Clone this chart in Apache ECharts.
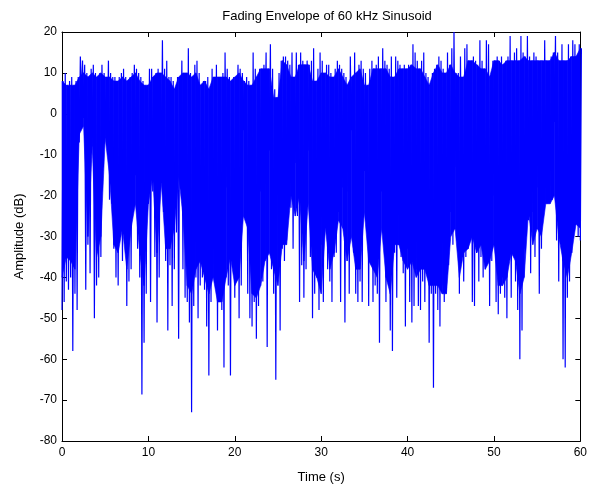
<!DOCTYPE html>
<html>
<head>
<meta charset="utf-8">
<script src="https://cdn.jsdelivr.net/npm/echarts@6/dist/echarts.min.js"></script>
<style>
html,body{margin:0;padding:0;background:#fff;}
#chart{width:590px;height:489px;}
</style>
</head>
<body>
<div id="chart"></div>
<script>
const chartTitle = 'Fading Envelope of 60 kHz Sinusoid';
const xAxisName = 'Time (s)';
const yAxisName = 'Amplitude (dB)';
const xTicks = [0, 10, 20, 30, 40, 50, 60];
const yTicks = [-80, -70, -60, -50, -40, -30, -20, -10, 0, 10, 20];
const binSeconds = 0.25;
const floorSeconds = 0.5;

// per-bin upper peak (dB), bins of 0.25 s from t = 0
const upperDb = [
  8,10,7,8,9,7,8,9,14,13, 12,10,9,11,12,10,9,10,12,10, 9,13,10,9,9,8,9,10,11,9, 8,9,
  10,12,11,10,9,8,7,7,11,11, 9,10,11,10,18,11,13,9,9,8, 6,9,9,13,10,10,16,10,9,12, 13,10,
  7,8,8,9,6,11,9,12,9,9, 10,15,11,9,8,9,9,12,11,10, 8,9,8,7,15,11,9,11,11,12, 15,
  11,17,11,6,4,10,13,14,14,13, 12,15,9,15,12,15,13,12,13,12, 13,16,8,11,15,13,10,12,12,10, 9,
  11,13,12,11,10,9,7,14,9,15, 10,12,13,11,10,7,11,13,11,12, 14,11,16,13,12,11,14,9,14,13, 12,11,
  12,11,12,12,17,15,13,11,13,15, 10,9,7,10,11,12,14,13,11,10, 15,12,16,20,10,10,14,9,16,17, 13,
  13,14,13,12,18,13,11,18,17,9, 13,13,14,13,14,12,13,14,19,13, 15,16,13,19,15,14,19,14,13,15, 14,13,
  13,13,18,13,13,14,15,19,15,13, 17,13,13,17,14,18,17,14,17,16
];

// per-bin lower trough (dB), same bins
const lowerDb = [
  -48,-46,-41,-43,-40,-58,-44,-48,-7,4, -1,-43,-32,-39,-8,-50,-42,-40,-35,-12, -6,-6,-21,-22,-33,-40,-42,-29,-36,-27, -47,-41,
  -38,-11,-15,-33,-40,-68.6,-56,-44,-22,-46, -19,-35,-51,-40,-17,-24,-36,-53,-37,-47, -38,-29,-55,-12,-38,-45,-46,-51,-73,-47, -40,-50,
  -42,-40,-43,-52,-64,-46,-40,-35,-53,-41, -48,-62,-18,-42,-64,-27,-45,-3,-50,-42, -4,-6,-44,-50,-52,-46,-55,-47,-19,-41, -6,
  -57,-9,-38,-44,-65,-20,-53,-33,-36,-31, -15,-23,-33,-12,-25,-46,-37,-45,-38,-9, -35,-50,-44,-40,-48,-32,-46,-28,-38,-41, -46,
  -35,-34,-24,-46,-18,-51,-19,-44,-4,-34, -44,-46,-41,-46,-14,-18,-47,-34,-46,-42, -44,-56,-19,-25,-46,-36,-53,-58,-34,-45, -32,-35,
  -39,-52,-33,-46,-51,-47,-38,-47,-48,-41, -46,-35,-56,-44,-67,-44,-48,-52,-42,-46, -43,-37,-24,-32,-13,-31,-44,-17,-41,-35, -33,
  -29,-46,-47,-34,-41,-35,-40,-38,-28,-47, -36,-20,-46,-49,-44,-40,-45,-50,-30,-45, -32,-41,-48,-60,-53,-33,-22,-26,-39,-24, -35,-18,
  -44,-33,-21,-22,-22,-21,-21,-2,-31,-41, -31,-60,-62,-45,-41,-34,-26,-24,-30,-31
];

// bottom of the solid (densely filled) part of the trace, every 0.5 s
const bodyFloorDb = [
  -40,-35,-36,-38,-5,-3,-30,-8,-35,-30,-6,-15,-32,-34,-28,-38,
  -28,-22,-34,-42,-22,-15,-34,-17,-33,-33,-28,-15,-25,-42,-44,-38,
  -36,-40,-44,-40,-46,-46,-40,-35,-42,-40,-25,-28,-44,-45,-42,-36,
  -34,-38,-42,-32,-32,-20,-25,-20,-36,-22,-38,-40,-44,-28,-38,
  -34,-26,-28,-36,-30,-38,-38,-24,-36,-38,-40,-28,-40,-44,-32,-32,
  -36,-38,-36,-40,-38,-38,-42,-42,-42,-44,-44,-30,-28,-40,-34,-33,
  -30,-34,-32,-38,-36,-32,-42,-42,-40,-34,-36,-44,-40,-24,-32,-28,
  -30,-22,-22,-20,-30,-36,-40,-34,-27,-28
];

const signal = [];
for (let k = 0; k < lowerDb.length; k++) {
  const t = k * binSeconds;
  signal.push([t, lowerDb[k]]);
  signal.push([t + binSeconds / 2, upperDb[k]]);
}

// solid band segments: from body floor up to the lowest nearby peak of the trace
function bandTop(i) {
  const k = Math.round(i * floorSeconds / binSeconds);
  const near = upperDb.slice(Math.max(0, k - 1), Math.min(upperDb.length, k + 2));
  return Math.min.apply(null, near);
}
const bandSegments = [];
for (let i = 0; i + 1 < bodyFloorDb.length; i++) {
  bandSegments.push([i * floorSeconds, bodyFloorDb[i], bandTop(i),
                     (i + 1) * floorSeconds, bodyFloorDb[i + 1], bandTop(i + 1)]);
}

const font = 'Liberation Sans, Arial, sans-serif';
const chart = echarts.init(document.getElementById('chart'), null, {renderer: 'canvas'});
const axisLine = {show: true, onZero: false, lineStyle: {color: '#000', width: 1}};
const tickIn = {show: true, inside: true, length: 5, lineStyle: {color: '#000'}};
chart.setOption({
  animation: false,
  backgroundColor: '#fff',
  title: {
    text: chartTitle, left: 322, top: 5, textAlign: 'center',
    textStyle: {fontFamily: font, fontSize: 13, fontWeight: 'normal', color: '#000'}
  },
  grid: {left: 62, right: 9, top: 32, bottom: 46, show: false},
  xAxis: [{
    type: 'value', min: xTicks[0], max: xTicks[xTicks.length - 1], interval: 10,
    name: xAxisName, nameLocation: 'middle', nameGap: 30,
    nameTextStyle: {fontFamily: font, fontSize: 13, color: '#000'},
    axisLine: axisLine, axisTick: tickIn, splitLine: {show: false},
    axisLabel: {fontFamily: font, fontSize: 12, color: '#000', margin: 6}
  }, {
    type: 'value', position: 'top', min: xTicks[0], max: xTicks[xTicks.length - 1], interval: 10,
    axisLine: axisLine, axisTick: tickIn, splitLine: {show: false}, axisLabel: {show: false}
  }],
  yAxis: [{
    type: 'value', min: yTicks[0], max: yTicks[yTicks.length - 1], interval: 10,
    name: yAxisName, nameLocation: 'middle', nameGap: 36,
    nameTextStyle: {fontFamily: font, fontSize: 13, color: '#000'},
    axisLine: axisLine, axisTick: tickIn, splitLine: {show: false},
    axisLabel: {fontFamily: font, fontSize: 12, color: '#000', margin: 5}
  }, {
    type: 'value', position: 'right', min: yTicks[0], max: yTicks[yTicks.length - 1], interval: 10,
    axisLine: axisLine, axisTick: tickIn, splitLine: {show: false}, axisLabel: {show: false}
  }],
  series: [{
    type: 'custom', data: bandSegments, silent: true, z: 1,
    encode: {x: [0, 3], y: [1, 2, 4, 5]},
    renderItem: function (params, api) {
      const a = api.coord([api.value(0), api.value(1)]);
      const b = api.coord([api.value(0), api.value(2)]);
      const c = api.coord([api.value(3), api.value(5)]);
      const d = api.coord([api.value(3), api.value(4)]);
      return {
        type: 'polygon',
        shape: {points: [a, b, c, d]},
        style: {fill: '#0000ff', stroke: '#0000ff', lineWidth: 0.6}
      };
    }
  }, {
    type: 'line', data: signal, showSymbol: false, symbol: 'none',
    lineStyle: {color: '#0000ff', width: 1.2}, clip: true, z: 2
  }]
});
</script>
</body>
</html>
